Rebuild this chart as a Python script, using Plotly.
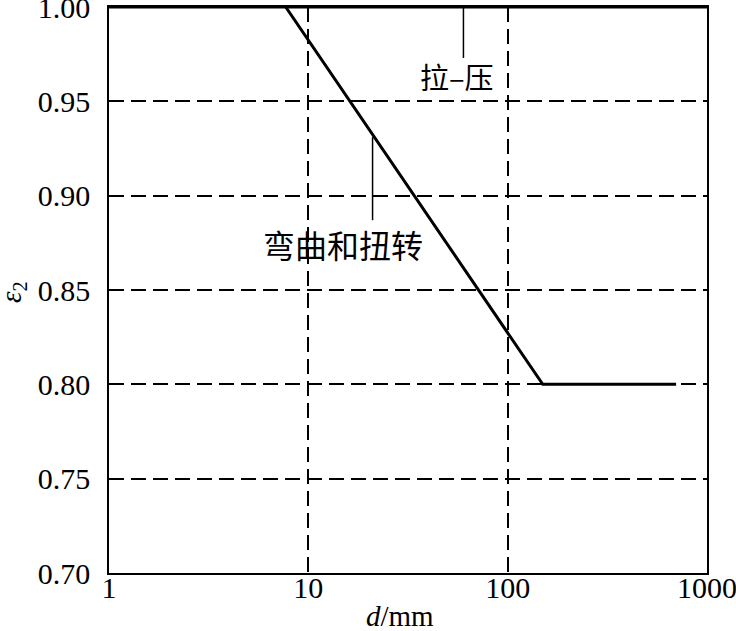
import math
import plotly.graph_objects as go

# Data
tension_d = [1, 1000]
tension_eps = [1.00, 1.00]
bending_d = [7.7, 150, 700]
bending_eps = [1.00, 0.80, 0.80]

x_tickvals = [1, 10, 100, 1000]
x_ticktext = ["1", "10", "100", "1000"]
y_tickvals = [0.70, 0.75, 0.80, 0.85, 0.90, 0.95, 1.00]
y_ticktext = ["0.70", "0.75", "0.80", "0.85", "0.90", "0.95", "1.00"]

# leader lines for labels
tension_leader_d = [60, 60]
tension_leader_eps = [1.00, 0.973]
bending_leader_d = [21, 21]
bending_leader_eps = [0.931, 0.887]
tension_label = "拉–压"
bending_label = "弯曲和扭转"
tension_label_pos = (56, 0.9635)
bending_label_pos = (15, 0.8745)

W, H = 736, 631
L, R, T, B = 109, 29, 7, 58
PW, PH = W - L - R, H - T - B

fig = go.Figure()
fig.add_trace(go.Scatter(x=tension_d, y=tension_eps, mode="lines",
                         line=dict(color="black", width=3), showlegend=False))
fig.add_trace(go.Scatter(x=bending_d, y=bending_eps, mode="lines",
                         line=dict(color="black", width=3), showlegend=False))
fig.add_trace(go.Scatter(x=tension_leader_d, y=tension_leader_eps, mode="lines",
                         line=dict(color="black", width=1.5), showlegend=False))
fig.add_trace(go.Scatter(x=bending_leader_d, y=bending_leader_eps, mode="lines",
                         line=dict(color="black", width=1.5), showlegend=False))

cjk = "Noto Sans CJK SC"
fig.add_annotation(x=math.log10(tension_label_pos[0]), y=tension_label_pos[1], xref="x", yref="y",
                   text=tension_label, showarrow=False,
                   font=dict(family=cjk, size=29, color="black"))
fig.add_annotation(x=math.log10(bending_label_pos[0]), y=bending_label_pos[1], xref="x", yref="y",
                   text=bending_label, showarrow=False,
                   font=dict(family=cjk, size=32, color="black"))

serif = "Liberation Serif, Times New Roman, serif"
# axis titles (pixel positions converted to paper coords)
fig.add_annotation(x=(400 - L) / PW, y=-(616 - (H - B)) / PH, xref="paper", yref="paper",
                   text="<i>d</i>/mm", showarrow=False, yanchor="middle",
                   font=dict(family=serif, size=29, color="black"))
fig.add_annotation(x=-(L - 13) / PW, y=((H - B) - 292) / PH, xref="paper", yref="paper",
                   text="<i>ε</i><sub>2</sub>", showarrow=False, textangle=-90,
                   xanchor="center", yanchor="middle",
                   font=dict(family=serif, size=29, color="black"))

fig.update_xaxes(type="log", range=[0, 3], tickvals=x_tickvals, ticktext=x_ticktext,
                 showline=True, linecolor="black", linewidth=1.5, mirror=True,
                 showgrid=True, gridcolor="black", gridwidth=1.5, griddash="15px,7px",
                 ticks="", ticklabelstandoff=-13, automargin=False, ticklabeloverflow="allow",
                 tickfont=dict(family=serif, size=30, color="black"),
                 zeroline=False)
fig.update_yaxes(range=[0.70, 1.00], tickvals=y_tickvals, ticktext=y_ticktext,
                 showline=True, linecolor="black", linewidth=1.5, mirror=True,
                 showgrid=True, gridcolor="black", gridwidth=1.5, griddash="15px,7px",
                 ticks="", ticklabelstandoff=11, automargin=False, ticklabeloverflow="allow",
                 tickfont=dict(family=serif, size=30, color="black"),
                 zeroline=False)

fig.update_layout(width=W, height=H, margin=dict(l=L, r=R, t=T, b=B),
                  plot_bgcolor="white", paper_bgcolor="white")

fig.write_html("out.html", config={"displayModeBar": False},
               post_script="document.body.style.margin='0';document.body.style.overflow='hidden';")
